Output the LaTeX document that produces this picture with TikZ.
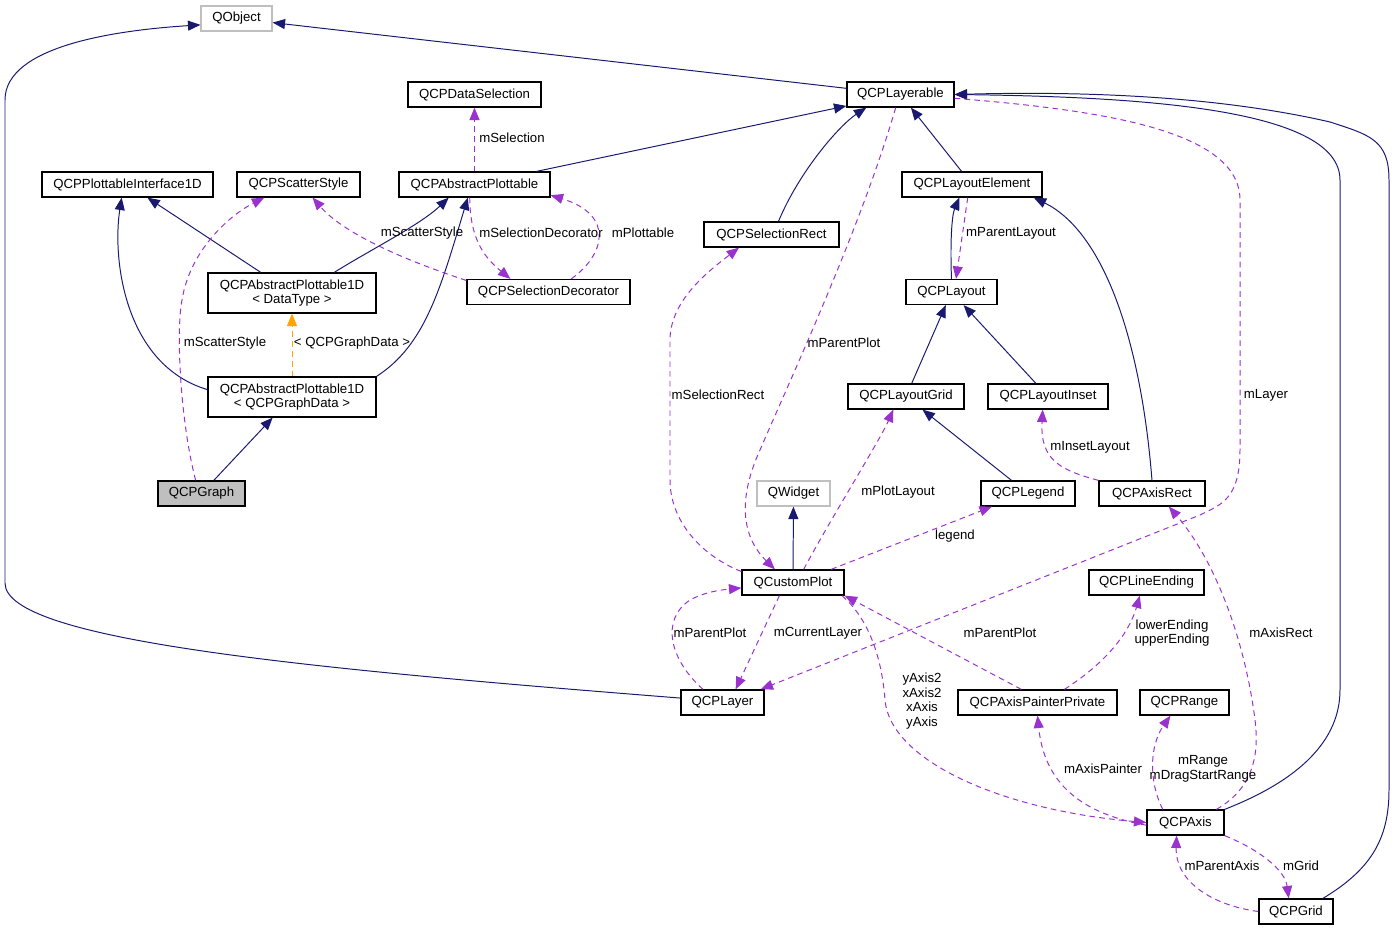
\documentclass[tikz,border=0pt]{standalone}
\usepackage{fontspec}
\setmainfont{Liberation Sans}
\usepackage{tikz}
\usetikzlibrary{arrows.meta}
\definecolor{edgeblue}{HTML}{191970}
\definecolor{edgepurple}{HTML}{9A32CD}
\definecolor{edgeorange}{HTML}{FFA500}
\definecolor{boxgray}{HTML}{BFBFBF}
\newcommand{\dxfont}{\fontsize{9.4}{10.5}\selectfont}
\tikzset{>={Triangle[length=0.31cm,width=0.25cm]}}
\tikzset{
  cls/.style = {rectangle, draw=black, line width=0.9pt, inner sep=0,
                minimum height=25*0.025cm, align=center, font=\dxfont},
  cls2/.style = {cls, minimum height=40*0.025cm},
  ext/.style = {cls, draw=boxgray},
  cur/.style = {cls, fill=boxgray},
  bw/.style = {minimum width=#1*0.025cm},
  inh/.style = {->, draw=edgeblue, line width=0.7pt},
  use/.style = {->, draw=edgepurple, line width=0.7pt, dash pattern=on 4pt off 3pt},
  tpl/.style = {->, draw=edgeorange, line width=0.7pt, dash pattern=on 4pt off 3pt},
  lbl/.style = {inner sep=0, align=center, font=\dxfont}
}

\begin{document}
\begin{tikzpicture}[x=0.025cm, y=-0.025cm]
\useasboundingbox (0,0) rectangle (1397,931);
% classes
\node [ext, bw=71] (QObj) at (236.5, 18.5) {QObject};
\node [cls, bw=133] (DataSel) at (474.5, 94.5) {QCPDataSelection};
\node [cls, bw=107] (Layerable) at (900.5, 94.5) {QCPLayerable};
\node [cls, bw=171] (PlotIf) at (127.5, 184.5) {QCPPlottableInterface1D};
\node [cls, bw=123] (Scatter) at (298.5, 184.5) {QCPScatterStyle};
\node [cls, bw=151] (AbsPlot) at (474.5, 184.5) {QCPAbstractPlottable};
\node [cls, bw=140] (LayElem) at (972, 184.5) {QCPLayoutElement};
\node [cls, bw=135] (SelRect) at (771.5, 234.5) {QCPSelectionRect};
\node [cls2, bw=168] (Plot1DT) at (292, 293) {QCPAbstractPlottable1D\\< DataType >};
\node [cls, bw=163] (SelDec) at (548.5, 292) {QCPSelectionDecorator};
\node [cls, bw=91] (Layout) at (951.5, 292) {QCPLayout};
\node [cls2, bw=168] (Plot1DG) at (292, 397) {QCPAbstractPlottable1D\\< QCPGraphData >};
\node [cur, bw=87] (Graph) at (201.5, 493.5) {QCPGraph};
\node [cls, bw=116] (LayGrid) at (906, 396.5) {QCPLayoutGrid};
\node [cls, bw=120] (LayInset) at (1048, 396.5) {QCPLayoutInset};
\node [ext, bw=73] (QWid) at (793.5, 493.5) {QWidget};
\node [cls, bw=94] (Legend) at (1028, 493.5) {QCPLegend};
\node [cls, bw=106] (AxRect) at (1152, 493.5) {QCPAxisRect};
\node [cls, bw=102] (CPlot) at (793, 582.5) {QCustomPlot};
\node [cls, bw=115] (LineEnd) at (1146.5, 582.5) {QCPLineEnding};
\node [cls, bw=83] (Layer) at (722.5, 702.5) {QCPLayer};
\node [cls, bw=159] (AxPaint) at (1037.5, 702.5) {QCPAxisPainterPrivate};
\node [cls, bw=89] (Range) at (1184.5, 702.5) {QCPRange};
\node [cls, bw=77] (Axis) at (1185.5, 822.5) {QCPAxis};
\node [cls, bw=74] (Grid) at (1296, 911.5) {QCPGrid};

% inheritance
\draw [inh] (Layerable) -- (QObj);
\draw [inh] (Layer.174) .. controls (300,668) and (5,640) .. (5,583) -- (5,100)
  .. controls (5,45) and (120,30) .. (QObj.-170);
\draw [inh] (AbsPlot) -- (Layerable);
\draw [inh] (SelRect.62) .. controls (800,170) and (840,125) .. (Layerable.-159);
\draw [inh] (LayElem) -- (Layerable);
\draw [inh] (Axis.north east) .. controls (1300,780) and (1340,740) .. (1340,690) -- (1340,180)
  .. controls (1340,110) and (1150,97) .. (Layerable.east);
\draw [inh] (Grid.26) .. controls (1370,870) and (1389,840) .. (1389,790) -- (1389,180)
  .. controls (1389,140) and (1370,135) .. (1330,122) .. controls (1200,92) and (1050,92) .. (Layerable.east);
\draw [inh] (Layout.north) .. controls (950,240) and (952,215) .. (LayElem.-134);
\draw [inh] (AxRect.north) .. controls (1140,330) and (1100,230) .. (LayElem.-12);
\draw [inh] (LayGrid) -- (Layout);
\draw [inh] (LayInset) -- (Layout);
\draw [inh] (Legend) -- (LayGrid);
\draw [inh] (CPlot) -- (QWid);
\draw [inh] (Plot1DT) -- (PlotIf);
\draw [inh] (Plot1DT.26) .. controls (370,250) and (420,225) .. (AbsPlot.-153);
\draw [inh] (Plot1DG.175) .. controls (125,365) and (112,260) .. (PlotIf.-114);
\draw [inh] (Plot1DG.north east) .. controls (425,345) and (440,290) .. (AbsPlot.-117);
\draw [inh] (Graph) -- (Plot1DG);
\draw [tpl] (Plot1DG) -- (Plot1DT);

% usage
\draw [use] (AbsPlot) -- (DataSel);
\draw [use] (Graph.114) .. controls (180,420) and (176,330) .. (182,300)
  .. controls (190,250) and (230,215) .. (Scatter.-159);
\draw [use] (SelDec.172) .. controls (410,262) and (345,235) .. (Scatter.-43);
\draw [use] (AbsPlot.-110) .. controls (470,240) and (485,258) .. (SelDec.161);
\draw [use] (SelDec.30) .. controls (605,255) and (615,215) .. (AbsPlot.-8);
\draw [use] (LayElem.-108) -- (Layout.71);
\draw [use] (CPlot.168) .. controls (700,555) and (670,520) .. (670,480) -- (670,340)
  .. controls (670,300) and (710,270) .. (SelRect.-158);
\draw [use] (Layerable.-110) .. controls (860,230) and (790,380) .. (760,450)
  .. controls (735,505) and (745,540) .. (CPlot.144);
\draw [use] (CPlot.51) .. controls (830,520) and (880,440) .. (LayGrid.-134);
\draw [use] (CPlot.19) -- (Legend.-160);
\draw [use] (Layerable.-4) .. controls (1100,110) and (1240,130) .. (1240,200) -- (1240,450)
  .. controls (1240,500) and (1220,505) .. (1200,515) -- (Layer.19);
\draw [use] (CPlot.-136) -- (Layer.45);
\draw [use] (Layer.146) .. controls (670,660) and (660,620) .. (690,600)
  .. controls (705,592) and (720,590) .. (CPlot.-174);
\draw [use] (AxPaint.141) -- (CPlot.south east);
\draw [use] (CPlot.-15) .. controls (870,620) and (882,660) .. (885,700)
  .. controls (890,760) and (1000,810) .. (Axis.west);
\draw [use] (Axis.-176) .. controls (1090,815) and (1045,790) .. (AxPaint.south);
\draw [use] (Axis.150) .. controls (1148,780) and (1150,745) .. (Range.-137);
\draw [use] (Axis.23) .. controls (1250,790) and (1260,760) .. (1255,720)
  .. controls (1245,640) and (1215,560) .. (AxRect.-38);
\draw [use] (AxPaint.26) .. controls (1110,660) and (1130,630) .. (LineEnd.-117);
\draw [use] (AxRect.north west) .. controls (1060,470) and (1040,460) .. (LayInset.-112);
\draw [use] (Axis.south east) .. controls (1260,850) and (1285,870) .. (Grid.119);
\draw [use] (Grid.west) .. controls (1210,905) and (1175,880) .. (Axis.-124);

% labels
\node [lbl] (lTpl) at (352, 343) {< QCPGraphData >};
\node [lbl] (lSel) at (512, 138) {mSelection};
\node [lbl] (lScat1) at (225, 343) {mScatterStyle};
\node [lbl] (lScat2) at (422, 233) {mScatterStyle};
\node [lbl] (lSelDec) at (541, 233) {mSelectionDecorator};
\node [lbl] (lPlot) at (643, 233) {mPlottable};
\node [lbl] (lParLay) at (1011, 233) {mParentLayout};
\node [lbl] (lParPlot1) at (844, 343) {mParentPlot};
\node [lbl] (lSelRect) at (718, 395) {mSelectionRect};
\node [lbl] (lLayer) at (1266, 395) {mLayer};
\node [lbl] (lInset) at (1090, 447) {mInsetLayout};
\node [lbl] (lPlotLay) at (898, 492) {mPlotLayout};
\node [lbl] (lLegend) at (955, 536) {legend};
\node [lbl] (lParPlot2) at (710, 633) {mParentPlot};
\node [lbl] (lCurLay) at (818, 633) {mCurrentLayer};
\node [lbl] (lParPlot3) at (1000, 633) {mParentPlot};
\node [lbl] (lEnd) at (1172, 633) {lowerEnding\\upperEnding};
\node [lbl] (lAxRect) at (1281, 633) {mAxisRect};
\node [lbl] (lAxes) at (922, 701) {yAxis2\\xAxis2\\xAxis\\yAxis};
\node [lbl] (lPaint) at (1103, 769) {mAxisPainter};
\node [lbl] (lRange) at (1203, 769) {mRange\\mDragStartRange};
\node [lbl] (lParAx) at (1222, 866) {mParentAxis};
\node [lbl] (lGrid) at (1301, 866) {mGrid};
\end{tikzpicture}
\end{document}
